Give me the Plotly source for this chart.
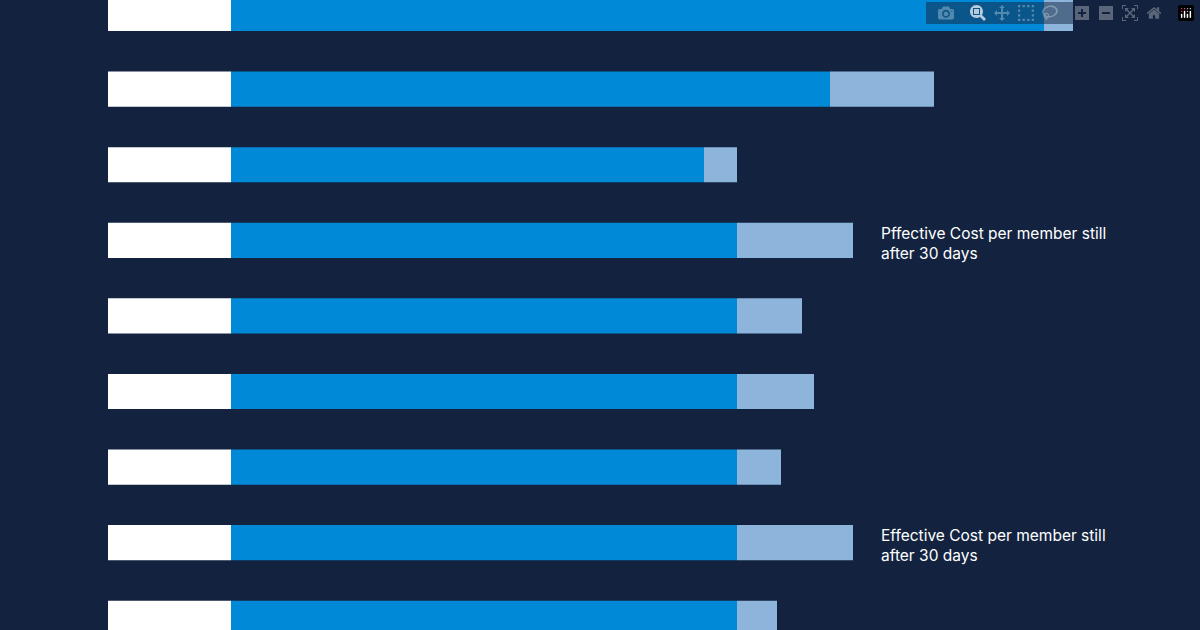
import plotly.graph_objects as go

rows = list(range(9))
base = [123] * 9
spend = [813, 599, 473, 506, 506, 506, 506, 506, 506]
extra = [29, 104, 33, 116, 65, 77, 44, 116, 40]
notes = {3: "Pffective Cost per member still<br>after 30 days",
         7: "Effective Cost per member still<br>after 30 days"}

fig = go.Figure()
fig.add_trace(go.Bar(y=rows, x=base, base=108, orientation='h', width=0.465,
                     marker=dict(color='#ffffff', line_width=0)))
fig.add_trace(go.Bar(y=rows, x=spend, base=[108 + b for b in base], orientation='h', width=0.465,
                     marker=dict(color='#0089d6', line_width=0)))
fig.add_trace(go.Bar(y=rows, x=extra, base=[108 + b + s for b, s in zip(base, spend)],
                     orientation='h', width=0.465,
                     marker=dict(color='#8db4db', line_width=0)))

for r, t in notes.items():
    fig.add_annotation(x=879, y=r + 0.04, text=t, showarrow=False, xanchor='left', align='left',
                       font=dict(color='#ffffff', size=15.5, family='Inter'))

fig.update_layout(
    width=1200, height=630, barmode='overlay', showlegend=False,
    paper_bgcolor='#13233f', plot_bgcolor='#13233f',
    margin=dict(l=0, r=0, t=0, b=0),
    xaxis=dict(range=[0, 1200], visible=False),
    yaxis=dict(range=[8.155, -0.179], visible=False),
)
fig.write_html("out.html", post_script="document.body.style.margin='0';document.body.style.background='#13233f';")
